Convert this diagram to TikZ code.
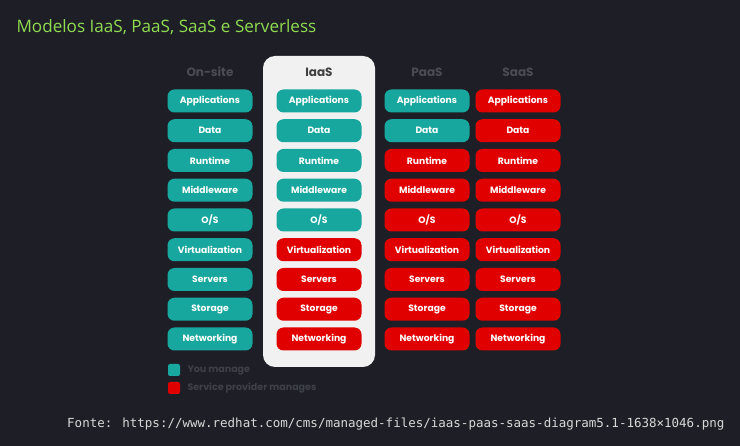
\documentclass[tikz,border=0pt]{standalone}
\usepackage{fontspec}
\setmainfont{Poppins}
\newfontfamily\titlefont{Open Sans}
\newfontfamily\codefont{DejaVu Sans Mono}
\definecolor{bg}{HTML}{1E1F26}
\definecolor{teal}{HTML}{18A79E}
\definecolor{rhred}{HTML}{E00000}
\definecolor{panel}{HTML}{F1F1F1}
\definecolor{headgray}{HTML}{4A4C55}
\definecolor{legendgray}{HTML}{3E4049}
\definecolor{titlegreen}{HTML}{8FDC50}
\definecolor{codegray}{HTML}{D8D8D8}
\tikzset{
  layer/.style={rounded corners=7pt, minimum width=85pt, minimum height=23pt,
    inner sep=0pt, text=white, font=\fontsize{9.2}{11}\selectfont\bfseries},
  mine/.style={layer, fill=teal},
  theirs/.style={layer, fill=rhred},
  colhead/.style={font=\fontsize{12}{14}\selectfont\bfseries, text=headgray},
  legbox/.style={rounded corners=2pt, minimum size=12pt, inner sep=0pt},
  legtext/.style={anchor=west, text=legendgray, font=\fontsize{9.5}{11}\selectfont\bfseries}
}
\begin{document}
\begin{tikzpicture}[x=1pt,y=-1pt]
\fill[bg] (0,0) rectangle (740,446);
\useasboundingbox (0,0) rectangle (740,446);

% title
\node[anchor=west, text=titlegreen, font=\titlefont\fontsize{17.1}{19}\selectfont] (title) at (13,27) {Modelos IaaS, PaaS, SaaS e Serverless};

% highlighted IaaS panel
\node[fill=panel, rounded corners=12pt, minimum width=112pt, minimum height=311pt, inner sep=0pt] (panelbox) at (319,211.5) {};

% column headers
\node[colhead] (h1) at (210,72) {On-site};
\node[colhead, text=black!75] (h2) at (319,72) {IaaS};
\node[colhead] (h3) at (427,72) {PaaS};
\node[colhead] (h4) at (518,72) {SaaS};

% layer stacks
\foreach \n/\lab [count=\i] in {app/Applications, data/Data, rt/Runtime, mw/Middleware, os/{O/S}, virt/Virtualization, srv/Servers, sto/Storage, net/Networking}{
  \pgfmathsetmacro{\yy}{101+(\i-1)*29.75}
  \node[mine] (on-\n) at (210,\yy) {\lab};
  \ifnum\i<6
    \node[mine] (iaas-\n) at (319,\yy) {\lab};
  \else
    \node[theirs] (iaas-\n) at (319,\yy) {\lab};
  \fi
  \ifnum\i<3
    \node[mine] (paas-\n) at (427,\yy) {\lab};
  \else
    \node[theirs] (paas-\n) at (427,\yy) {\lab};
  \fi
  \node[theirs] (saas-\n) at (518,\yy) {\lab};
}

% legend
\node[legbox, fill=teal] (legA) at (174,370) {};
\node[legtext] (legAt) at (184,370) {You manage};
\node[legbox, fill=rhred] (legB) at (174,388) {};
\node[legtext] (legBt) at (184,388) {Service provider manages};

% source line
\node[anchor=west, text=codegray, font=\codefont\fontsize{12.5}{14}\selectfont, inner sep=0pt] (src) at (67,424) {Fonte: https://www.redhat.com/cms/managed-files/iaas-paas-saas-diagram5.1-1638×1046.png};
\end{tikzpicture}
\end{document}
